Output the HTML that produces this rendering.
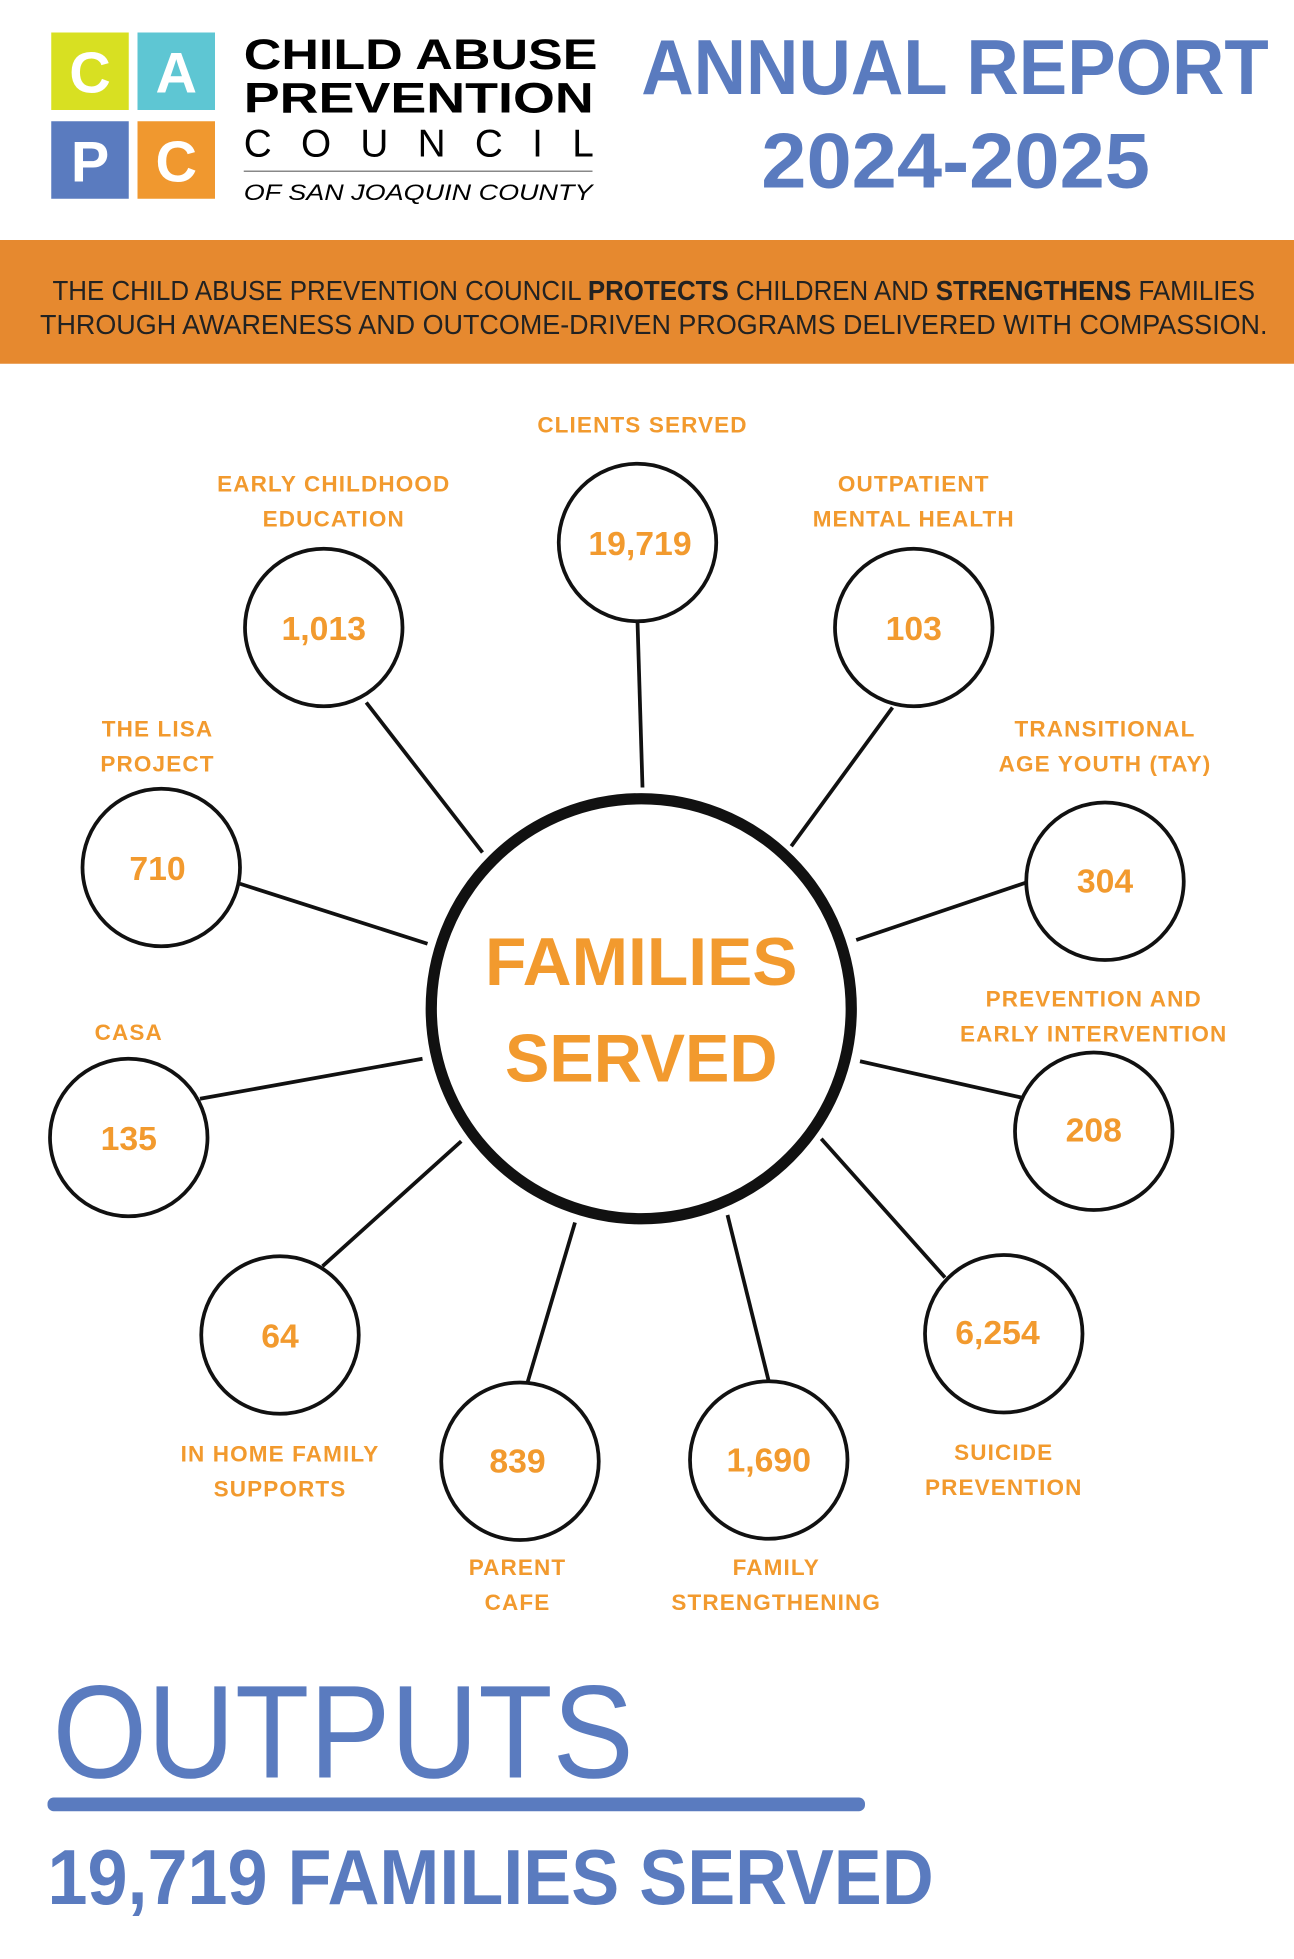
<!DOCTYPE html>
<html><head><meta charset="utf-8"><style>html,body{margin:0;padding:0;background:#fff}svg{display:block}</style></head>
<body>
<svg width="1294" height="1959" viewBox="0 0 1035.2 1567.2" xmlns="http://www.w3.org/2000/svg" font-family="Liberation Sans, sans-serif">
<rect width="1035.2" height="1567.2" fill="#fff"/>
<rect x="41" y="26" width="62" height="62" fill="#D8E022"/>
<rect x="110" y="26" width="62" height="62" fill="#5EC6D3"/>
<rect x="41" y="97" width="62" height="62" fill="#5A7BBF"/>
<rect x="110" y="97" width="62" height="62" fill="#F0982F"/>
<g fill="#fff" font-weight="bold" font-size="46" text-anchor="middle">
<text x="72" y="74">C</text><text x="141" y="74">A</text>
<text x="72" y="145">P</text><text x="141" y="145">C</text>
</g>
<text x="195" y="55" font-size="34" font-weight="bold" textLength="283" lengthAdjust="spacingAndGlyphs">CHILD ABUSE</text>
<text x="195" y="90" font-size="34" font-weight="bold" textLength="280" lengthAdjust="spacingAndGlyphs">PREVENTION</text>
<text x="195" y="125" font-size="31" textLength="280" lengthAdjust="spacing">COUNCIL</text>
<line x1="195" y1="137" x2="474" y2="137" stroke="#888" stroke-width="1.2"/>
<text x="195" y="160" font-size="18" font-style="italic" textLength="279" lengthAdjust="spacingAndGlyphs">OF SAN JOAQUIN COUNTY</text>
<g fill="#5A7BBF" font-weight="bold">
<text x="513" y="75" font-size="62" textLength="502" lengthAdjust="spacingAndGlyphs">ANNUAL REPORT</text>
<text x="609" y="150" font-size="62" textLength="311" lengthAdjust="spacingAndGlyphs">2024-2025</text>
</g>
<rect x="0" y="192" width="1035.2" height="99" fill="#E6892F"/>
<g fill="#222" font-size="22">
<text x="42" y="240" textLength="962" lengthAdjust="spacingAndGlyphs">THE CHILD ABUSE PREVENTION COUNCIL <tspan font-weight="bold">PROTECTS</tspan> CHILDREN AND <tspan font-weight="bold">STRENGTHENS</tspan> FAMILIES</text>
<text x="32" y="267" textLength="982" lengthAdjust="spacingAndGlyphs">THROUGH AWARENESS AND OUTCOME-DRIVEN PROGRAMS DELIVERED WITH COMPASSION.</text>
</g>
<g stroke="#111" stroke-width="3">
<line x1="510" y1="497" x2="514" y2="630"/>
<line x1="293" y1="562" x2="386" y2="682"/>
<line x1="714" y1="566" x2="633" y2="677"/>
<line x1="192" y1="707" x2="342" y2="755"/>
<line x1="821" y1="706" x2="685" y2="752"/>
<line x1="160" y1="879" x2="338" y2="847"/>
<line x1="817" y1="878" x2="688" y2="849"/>
<line x1="258" y1="1013" x2="369" y2="913"/>
<line x1="422" y1="1106" x2="460" y2="978"/>
<line x1="615" y1="1105" x2="582" y2="972"/>
<line x1="756" y1="1022" x2="657" y2="911"/>
</g>
<circle cx="513" cy="807" r="168" fill="#fff" stroke="#111" stroke-width="9"/>
<g fill="#fff" stroke="#111" stroke-width="3">
<circle cx="510" cy="434" r="63"/><circle cx="259" cy="502" r="63"/><circle cx="731" cy="502" r="63"/>
<circle cx="129" cy="694" r="63"/><circle cx="884" cy="705" r="63"/><circle cx="103" cy="910" r="63"/>
<circle cx="875" cy="905" r="63"/><circle cx="224" cy="1068" r="63"/><circle cx="416" cy="1169" r="63"/>
<circle cx="615" cy="1168" r="63"/><circle cx="803" cy="1067" r="63"/>
</g>
<g fill="#F29A2E" font-weight="bold" text-anchor="middle">
<text x="513" y="788" font-size="54" textLength="250" lengthAdjust="spacingAndGlyphs">FAMILIES</text>
<text x="513" y="865" font-size="54" textLength="218" lengthAdjust="spacingAndGlyphs">SERVED</text>
<g font-size="27">
<text x="512" y="444">19,719</text><text x="259" y="512">1,013</text><text x="731" y="512">103</text>
<text x="126" y="704">710</text><text x="884" y="714">304</text><text x="103" y="920">135</text>
<text x="875" y="913">208</text><text x="224" y="1078">64</text><text x="414" y="1178">839</text>
<text x="615" y="1177">1,690</text><text x="798" y="1075">6,254</text>
</g>
<g font-size="18" letter-spacing="0.9">
<text x="514" y="346">CLIENTS SERVED</text>
<text x="267" y="393">EARLY CHILDHOOD</text><text x="267" y="421">EDUCATION</text>
<text x="731" y="393">OUTPATIENT</text><text x="731" y="421">MENTAL HEALTH</text>
<text x="126" y="589">THE LISA</text><text x="126" y="617">PROJECT</text>
<text x="884" y="589">TRANSITIONAL</text><text x="884" y="617">AGE YOUTH (TAY)</text>
<text x="103" y="832">CASA</text>
<text x="875" y="805">PREVENTION AND</text><text x="875" y="833">EARLY INTERVENTION</text>
<text x="224" y="1169">IN HOME FAMILY</text><text x="224" y="1197">SUPPORTS</text>
<text x="414" y="1260">PARENT</text><text x="414" y="1288">CAFE</text>
<text x="621" y="1260">FAMILY</text><text x="621" y="1288">STRENGTHENING</text>
<text x="803" y="1168">SUICIDE</text><text x="803" y="1196">PREVENTION</text>
</g>
</g>
<text x="42" y="1422" font-size="106" fill="#5A7BBF" textLength="465" lengthAdjust="spacingAndGlyphs">OUTPUTS</text>
<rect x="38" y="1438" width="654" height="11" rx="5" fill="#5A7BBF"/>
<text x="38" y="1523" font-size="62" font-weight="bold" fill="#5A7BBF" textLength="709" lengthAdjust="spacingAndGlyphs">19,719 FAMILIES SERVED</text>
</svg>
</body></html>
